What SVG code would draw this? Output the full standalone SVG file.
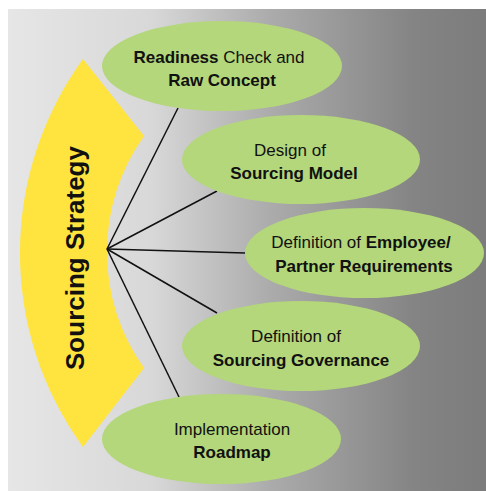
<svg xmlns="http://www.w3.org/2000/svg" width="486" height="491" viewBox="0 0 486 491">
<defs>
<linearGradient id="bg" x1="0" y1="0" x2="1" y2="0">
<stop offset="0" stop-color="#e6e6e6"/>
<stop offset="0.3" stop-color="#d8d8d8"/>
<stop offset="0.55" stop-color="#ababab"/>
<stop offset="0.85" stop-color="#848484"/>
<stop offset="1" stop-color="#7c7c7c"/>
</linearGradient>
<style>
.node ellipse{fill:#b3d77a}
.lbl{font-family:"Liberation Sans",Arial,sans-serif;font-size:17px;fill:#111;text-anchor:middle}
.b{font-weight:bold}
.conn line{stroke:#111;stroke-width:1.5}
</style>
</defs>
<rect x="8" y="9" width="478" height="482" fill="url(#bg)"/>
<g id="hub">
<path d="M83,59 L144,136 A200,200 0 0 0 144,368 L83,447 A330,330 0 0 1 83,59 Z" fill="#ffe43f"/>
<text transform="translate(84,258) rotate(-90)" font-family="'Liberation Sans',Arial,sans-serif" font-size="26" font-weight="bold" fill="#111" text-anchor="middle">Sourcing Strategy</text>
</g>
<g id="connectors" class="conn">
<line x1="107" y1="249" x2="178" y2="108"/>
<line x1="107" y1="249" x2="217" y2="191"/>
<line x1="107" y1="249" x2="245" y2="253"/>
<line x1="107" y1="249" x2="217" y2="313"/>
<line x1="107" y1="249" x2="179" y2="397"/>
</g>
<g id="n1" class="node">
<ellipse cx="222" cy="66" rx="120" ry="45"/>
<text class="lbl" x="219" y="63"><tspan class="b">Readiness</tspan> Check and</text>
<text class="lbl b" x="222" y="86">Raw Concept</text>
</g>
<g id="n2" class="node">
<ellipse cx="301" cy="159.5" rx="119" ry="44.5"/>
<text class="lbl" x="290" y="156">Design of</text>
<text class="lbl b" x="294" y="179">Sourcing Model</text>
</g>
<g id="n3" class="node">
<ellipse cx="364.5" cy="253" rx="119.5" ry="45"/>
<text class="lbl" x="361" y="248">Definition of <tspan class="b">Employee/</tspan></text>
<text class="lbl b" x="364" y="272">Partner Requirements</text>
</g>
<g id="n4" class="node">
<ellipse cx="301" cy="346" rx="119" ry="45"/>
<text class="lbl" x="296" y="342">Definition of</text>
<text class="lbl b" x="301" y="366">Sourcing Governance</text>
</g>
<g id="n5" class="node">
<ellipse cx="221.5" cy="439" rx="119.5" ry="45"/>
<text class="lbl" x="232" y="435">Implementation</text>
<text class="lbl b" x="232" y="458">Roadmap</text>
</g>
</svg>
